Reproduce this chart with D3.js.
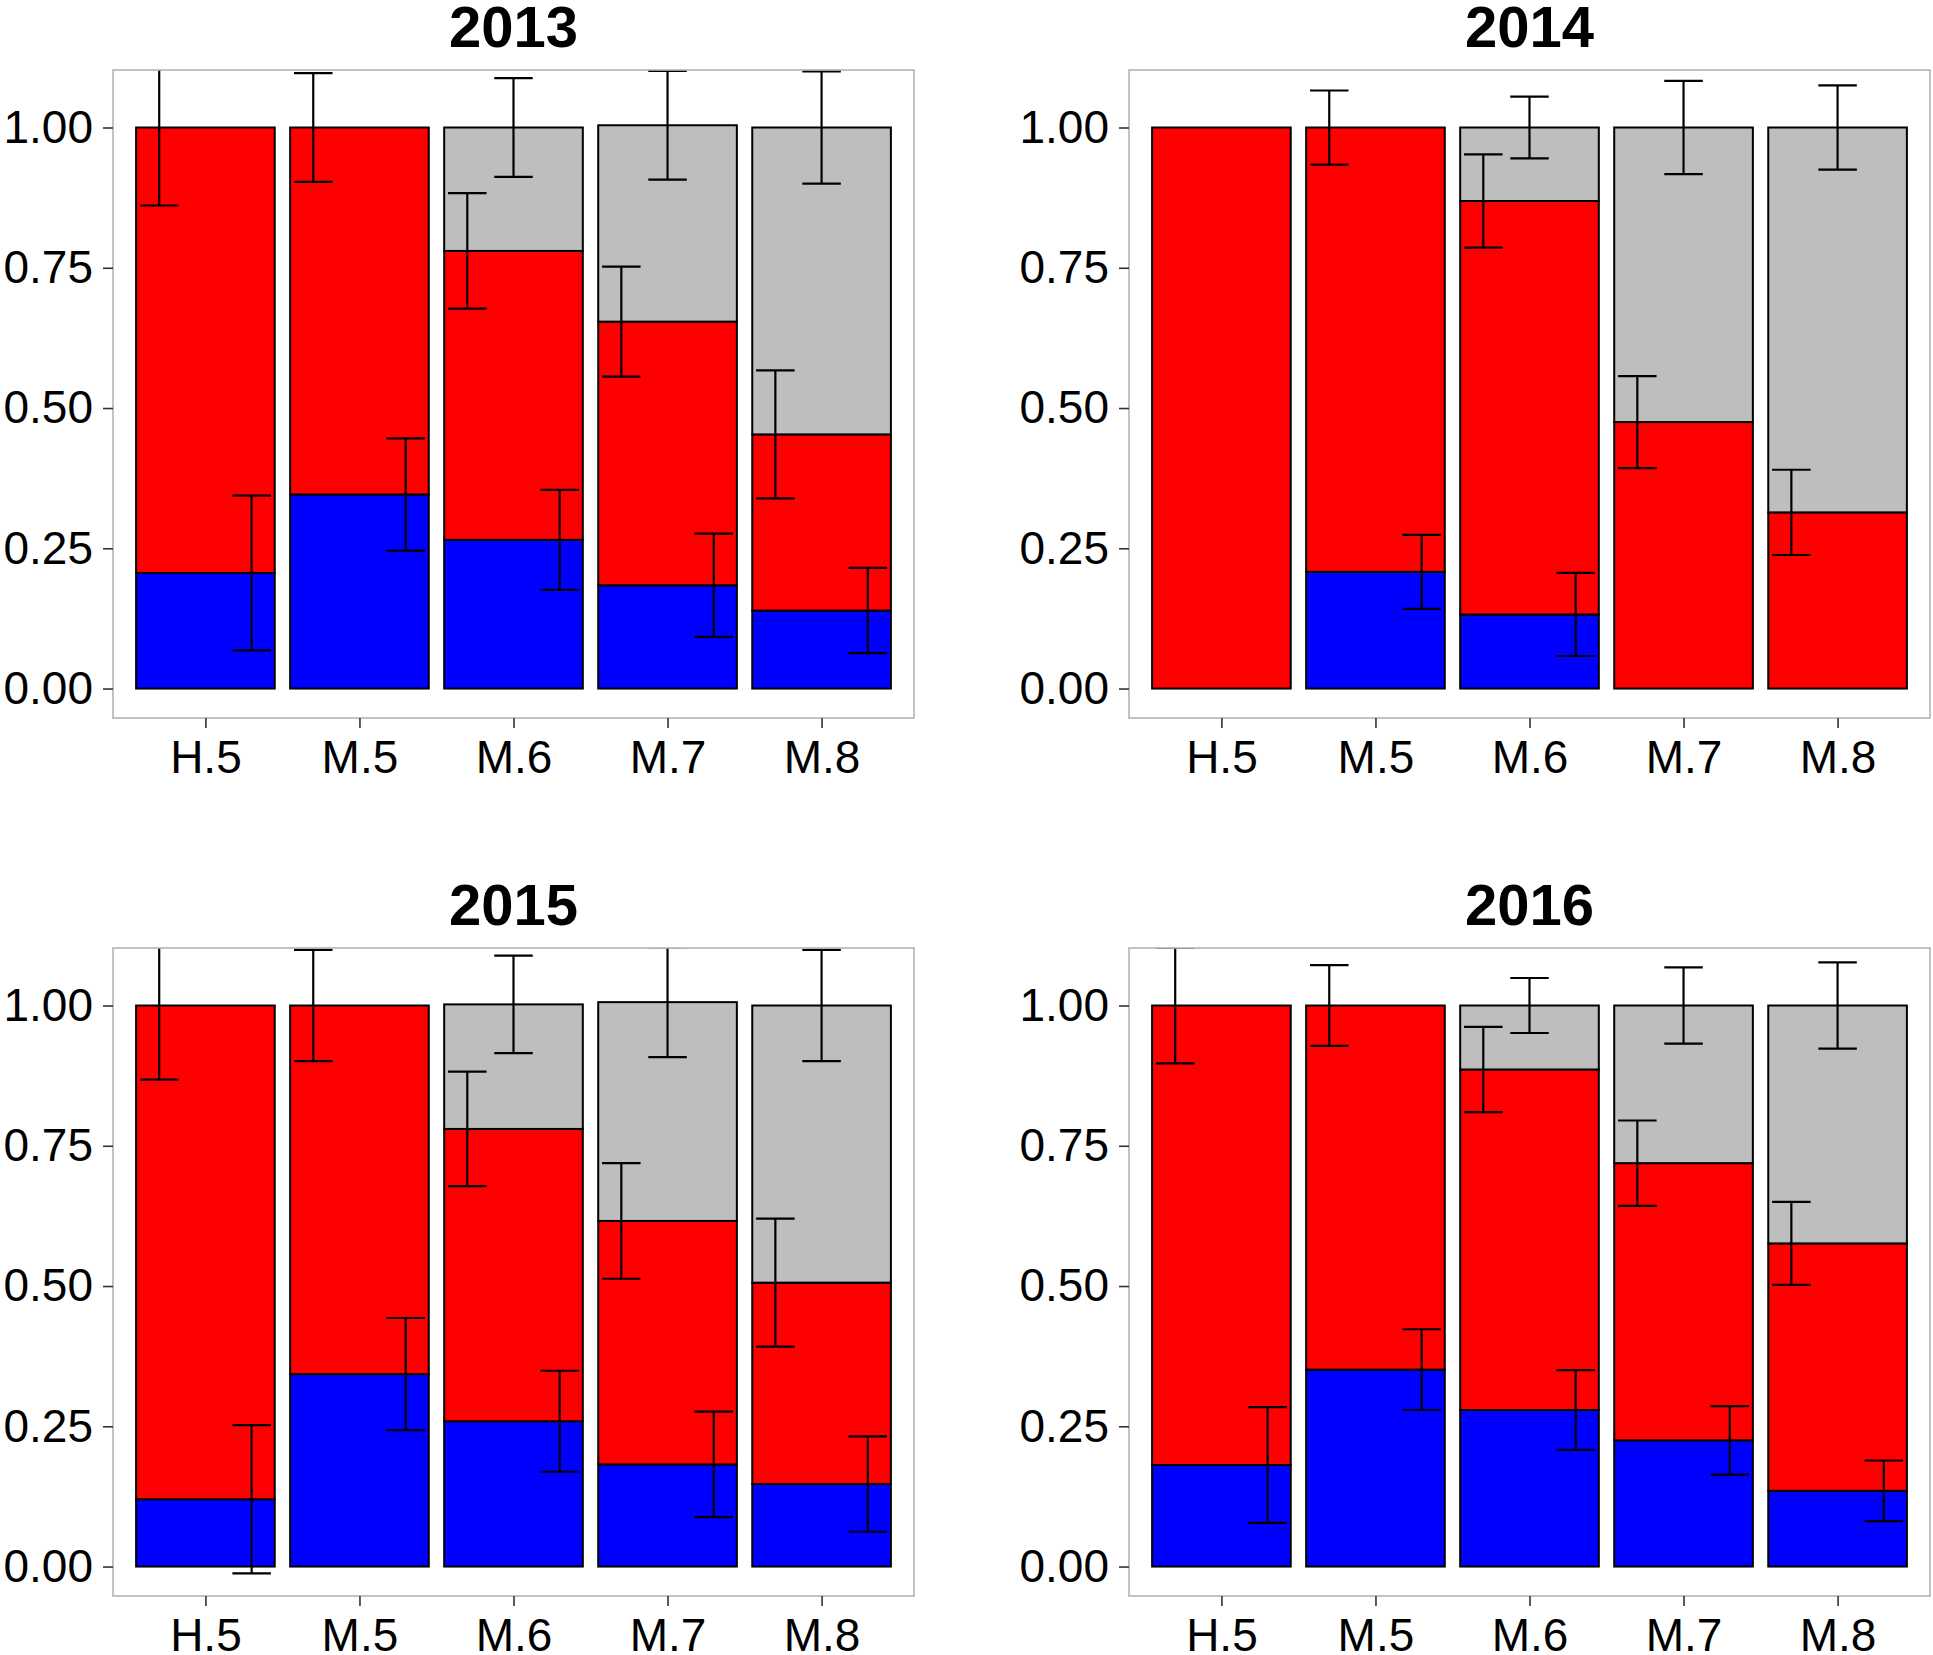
<!DOCTYPE html>
<html>
<head>
<meta charset="utf-8">
<script src="https://cdn.jsdelivr.net/npm/d3@7"></script>
<style>
  html, body { margin: 0; padding: 0; background: #fff; }
  svg { display: block; }
</style>
</head>
<body>
<svg id="chart" width="1933" height="1655"></svg>
<script>
// ---------- data ----------
const categories = ["H.5", "M.5", "M.6", "M.7", "M.8"];
const years = ["2013", "2014", "2015", "2016"];
const yTicks = [0, 0.25, 0.5, 0.75, 1.0];

// segment proportions (stacked bottom -> top: blue, red, gray)
const blue2013 = [0.206, 0.346, 0.265, 0.184, 0.139];
const red2013  = [0.794, 0.654, 0.515, 0.470, 0.314];
const gray2013 = [0.000, 0.000, 0.220, 0.350, 0.547];
const blueErr2013 = [0.138, 0.100, 0.089, 0.092, 0.076];
const redErr2013  = [0.139, 0.097, 0.103, 0.098, 0.114];
const grayErr2013 = [0, 0, 0.088, 0.097, 0.100];

const blue2014 = [0.000, 0.208, 0.132, 0.000, 0.000];
const red2014  = [1.000, 0.792, 0.737, 0.475, 0.314];
const gray2014 = [0.000, 0.000, 0.131, 0.525, 0.686];
const blueErr2014 = [0, 0.066, 0.074, 0, 0];
const redErr2014  = [0, 0.066, 0.083, 0.082, 0.076];
const grayErr2014 = [0, 0, 0.055, 0.083, 0.075];

const blue2015 = [0.120, 0.343, 0.259, 0.182, 0.147];
const red2015  = [0.880, 0.657, 0.521, 0.434, 0.359];
const gray2015 = [0.000, 0.000, 0.222, 0.390, 0.494];
const blueErr2015 = [0.132, 0.100, 0.090, 0.094, 0.085];
const redErr2015  = [0.132, 0.099, 0.102, 0.103, 0.114];
const grayErr2015 = [0, 0, 0.087, 0.098, 0.099];

const blue2016 = [0.181, 0.351, 0.279, 0.225, 0.135];
const red2016  = [0.819, 0.649, 0.607, 0.494, 0.441];
const gray2016 = [0.000, 0.000, 0.114, 0.281, 0.424];
const blueErr2016 = [0.103, 0.072, 0.071, 0.061, 0.054];
const redErr2016  = [0.103, 0.072, 0.076, 0.076, 0.074];
const grayErr2016 = [0, 0, 0.049, 0.068, 0.077];

const panelsData = [
  { year: years[0], blue: blue2013, red: red2013, gray: gray2013, be: blueErr2013, re: redErr2013, ge: grayErr2013 },
  { year: years[1], blue: blue2014, red: red2014, gray: gray2014, be: blueErr2014, re: redErr2014, ge: grayErr2014 },
  { year: years[2], blue: blue2015, red: red2015, gray: gray2015, be: blueErr2015, re: redErr2015, ge: grayErr2015 },
  { year: years[3], blue: blue2016, red: red2016, gray: gray2016, be: blueErr2016, re: redErr2016, ge: grayErr2016 }
];

const colors = { blue: "#0000FF", red: "#FF0000", gray: "#BEBEBE" };
// error-bar dodge offsets (in category units)
const dodge = { red: -0.3, gray: 0, blue: 0.3 };

// ---------- layout ----------
const panelW = 801, panelH = 648;
const panelX = [113, 1129];
const panelY = [70, 948];
const FONT = "'Liberation Sans', Arial, Helvetica, sans-serif";

const svg = d3.select("#chart");

panelsData.forEach((pd, i) => {
  const px = panelX[i % 2], py = panelY[Math.floor(i / 2)];
  const g = svg.append("g").attr("transform", `translate(${px},${py})`);

  // ggplot-like discrete expansion: 0.6 units each side
  const n = categories.length;
  const unit = panelW / (n - 1 + 1.2);
  const xc = d3.scalePoint().domain(categories).range([0.6 * unit, panelW - 0.6 * unit]);
  const y = d3.scaleLinear().domain([-0.0525, 1.1025]).range([panelH, 0]);

  const clipId = "clip" + i;
  g.append("clipPath").attr("id", clipId)
    .append("rect").attr("x", 0).attr("y", 0).attr("width", panelW).attr("height", panelH);

  const plot = g.append("g").attr("clip-path", `url(#${clipId})`);

  // stack
  const rows = categories.map((c, k) => ({ cat: c, blue: pd.blue[k], red: pd.red[k], gray: pd.gray[k] }));
  const stack = d3.stack().keys(["blue", "red", "gray"]);
  const series = stack(rows);
  const barW = 0.9 * unit;

  series.forEach(s => {
    plot.selectAll(null).data(s.filter(d => d[1] - d[0] > 0)).enter()
      .append("rect")
      .attr("x", d => xc(d.data.cat) - barW / 2)
      .attr("width", barW)
      .attr("y", d => y(d[1]))
      .attr("height", d => y(d[0]) - y(d[1]))
      .attr("fill", colors[s.key])
      .attr("stroke", "#000")
      .attr("stroke-width", 2);
  });

  // error bars centred on the cumulative top of each segment
  const errs = [];
  categories.forEach((c, k) => {
    const tb = pd.blue[k], tr = tb + pd.red[k], tg = tr + pd.gray[k];
    if (pd.be[k] > 0) errs.push({ cat: c, key: "blue", v: tb, e: pd.be[k] });
    if (pd.re[k] > 0) errs.push({ cat: c, key: "red", v: tr, e: pd.re[k] });
    if (pd.ge[k] > 0) errs.push({ cat: c, key: "gray", v: tg, e: pd.ge[k] });
  });
  const capW = 0.25 * unit;
  const eb = plot.selectAll(null).data(errs).enter().append("g")
    .attr("stroke", "#000").attr("stroke-width", 2.2).attr("fill", "none");
  const ex = d => xc(d.cat) + dodge[d.key] * unit;
  eb.append("line").attr("x1", ex).attr("x2", ex)
    .attr("y1", d => y(d.v - d.e)).attr("y2", d => y(d.v + d.e));
  eb.append("line").attr("x1", d => ex(d) - capW / 2).attr("x2", d => ex(d) + capW / 2)
    .attr("y1", d => y(d.v + d.e)).attr("y2", d => y(d.v + d.e));
  eb.append("line").attr("x1", d => ex(d) - capW / 2).attr("x2", d => ex(d) + capW / 2)
    .attr("y1", d => y(d.v - d.e)).attr("y2", d => y(d.v - d.e));

  // panel border
  g.append("rect").attr("x", 0).attr("y", 0).attr("width", panelW).attr("height", panelH)
    .attr("fill", "none").attr("stroke", "#b3b3b3").attr("stroke-width", 1.6);

  // axes
  const yAxis = d3.axisLeft(y).tickValues(yTicks).tickFormat(d3.format(".2f")).tickSize(10).tickPadding(10);
  const ya = g.append("g").call(yAxis);
  const xAxis = d3.axisBottom(xc).tickSize(10).tickPadding(12);
  const xa = g.append("g").attr("transform", `translate(0,${panelH})`).call(xAxis);
  [ya, xa].forEach(a => {
    a.select(".domain").remove();
    a.selectAll(".tick line").attr("stroke", "#333").attr("stroke-width", 1.6);
    a.selectAll(".tick text").attr("fill", "#000").style("font-family", FONT).style("font-size", "46px");
  });

  // title
  g.append("text").attr("x", panelW / 2).attr("y", -23)
    .attr("text-anchor", "middle")
    .style("font-family", FONT).style("font-size", "58px").style("font-weight", "bold")
    .attr("fill", "#000")
    .text(pd.year);
});
</script>
</body>
</html>
